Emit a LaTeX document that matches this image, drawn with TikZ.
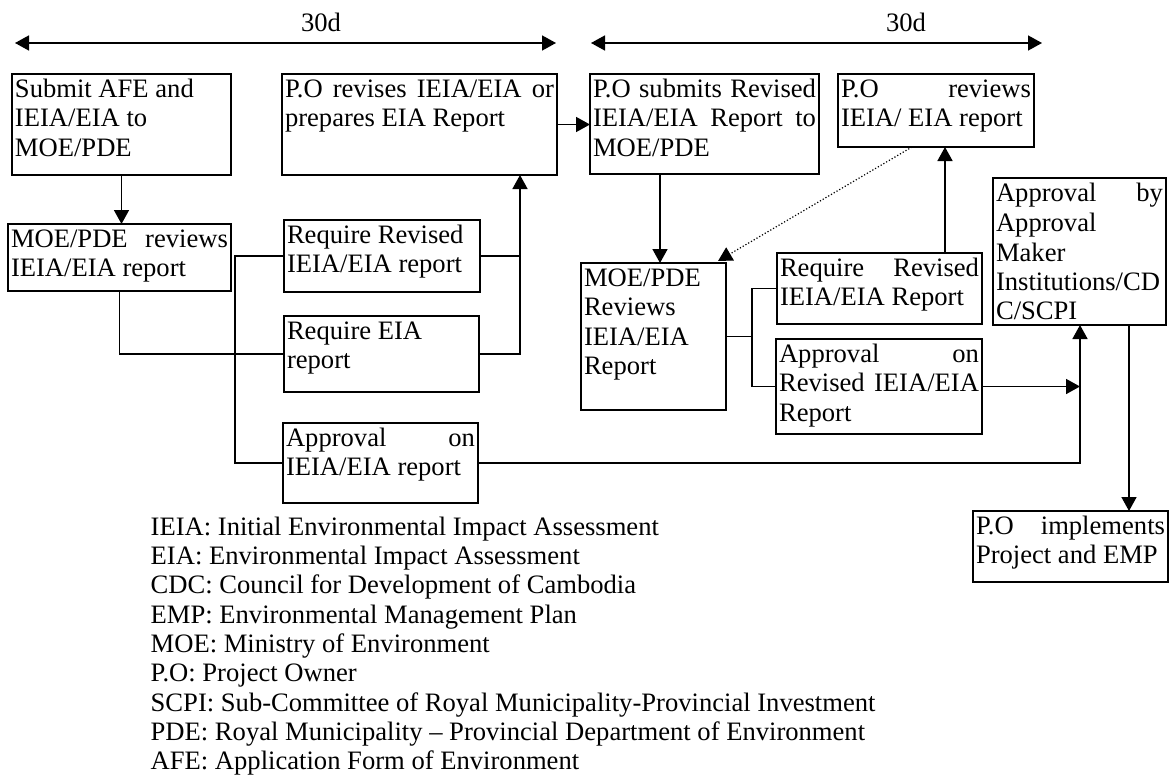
\documentclass[tikz,border=0pt]{standalone}
\usepackage{fontspec}
\setmainfont{Liberation Serif}
\usetikzlibrary{arrows.meta}

% line layout inside the boxes: every line carries a strut so the
% baselines sit 29.3pt apart and the first one 23.6pt below the top
\newdimen\bxw
\newcommand\bxpad{3pt}
\newcommand\lnstrut{\vrule width0pt height23.6pt depth5.7pt}
\newcommand\lft[1]{\hbox to\bxw{\hskip\bxpad\lnstrut #1\hfil}}
\newcommand\jst[1]{\hbox to\bxw{\hskip\bxpad\lnstrut\spaceskip=0.25em plus 1fil\relax #1\hskip\bxpad}}
\newcommand\boxtext[3]{\bxw=#1\relax\vbox to #2{#3\vfil}}
% tighter lines for the list of abbreviations
\newcommand\lgstrut{\vrule width0pt height23.4pt depth5.6pt}
\newcommand\lgl[1]{\hbox to\bxw{\lgstrut #1\hfil}}

\begin{document}
\begin{tikzpicture}[x=1pt,y=-1pt,
  font=\fontsize{26.6pt}{29.3pt}\selectfont,
  stepbox/.style={draw, line width=1.6pt, inner sep=0pt, outer sep=0pt, anchor=north west},
  ln/.style={line width=1.6pt},
  arr/.style={line width=1.6pt, -{Triangle[length=14pt,width=15pt]}},
  dbl/.style={line width=1.6pt, {Triangle[length=14pt,width=15pt]}-{Triangle[length=14pt,width=15pt]}},
  dots/.style={line width=1.2pt, dotted, -{Triangle[length=14pt,width=15pt]}}]
\useasboundingbox (0,0) rectangle (1176,776);

% time spans
\coordinate (tA1) at (15,43);
\coordinate (tA2) at (556,43);
\coordinate (tB1) at (591,43);
\coordinate (tB2) at (1042,43);
\draw[dbl] (tA1) -- (tA2);
\draw[dbl] (tB1) -- (tB2);
\node[anchor=base, inner sep=0pt] (d1) at (321,32) {30d};
\node[anchor=base, inner sep=0pt] (d2) at (906,32) {30d};

% process boxes
\node[stepbox] (A) at (12,74) {\boxtext{219pt}{101pt}{%
  \lft{Submit AFE and}\lft{IEIA/EIA to}\lft{MOE/PDE}}};
\node[stepbox] (B) at (8,224) {\boxtext{223pt}{67pt}{%
  \jst{MOE/PDE reviews}\lft{IEIA/EIA report}}};
\node[stepbox] (C) at (282,74) {\boxtext{275pt}{101pt}{%
  \jst{P.O revises IEIA/EIA or}\lft{prepares EIA Report}}};
\node[stepbox] (D) at (590,74) {\boxtext{229pt}{100pt}{%
  \jst{P.O submits Revised}\jst{IEIA/EIA Report to}\lft{MOE/PDE}}};
\node[stepbox] (E) at (838,74) {\boxtext{196pt}{73pt}{%
  \jst{P.O reviews}\lft{IEIA/ EIA report}}};
\node[stepbox] (RR) at (284,220) {\boxtext{196pt}{72pt}{%
  \lft{Require Revised}\lft{IEIA/EIA report}}};
\node[stepbox] (RE) at (284,316) {\boxtext{195pt}{76pt}{%
  \lft{Require EIA}\lft{report}}};
\node[stepbox] (K) at (283,423) {\boxtext{195pt}{80pt}{%
  \jst{Approval on}\lft{IEIA/EIA report}}};
\node[stepbox] (F) at (581,263) {\boxtext{145pt}{147pt}{%
  \lft{MOE/PDE}\lft{Reviews}\lft{IEIA/EIA}\lft{Report}}};
\node[stepbox] (G) at (777,253) {\boxtext{205pt}{71pt}{%
  \jst{Require Revised}\lft{IEIA/EIA Report}}};
\node[stepbox] (H) at (776,339) {\boxtext{206pt}{95pt}{%
  \jst{Approval on}\jst{Revised IEIA/EIA}\lft{Report}}};
\node[stepbox] (I) at (993,178) {\boxtext{173pt}{147pt}{%
  \jst{Approval by}\lft{Approval}\lft{Maker}\lft{Institutions/CD}\lft{C/SCPI}}};
\node[stepbox] (J) at (973,511) {\boxtext{195pt}{71pt}{%
  \jst{P.O implements}\lft{Project and EMP}}};

% abbreviations
\node[anchor=north west, inner sep=0pt] (legend) at (150.5,511.6) {\bxw=800pt\vbox{%
  \lgl{IEIA: Initial Environmental Impact Assessment}
  \lgl{EIA: Environmental Impact Assessment}
  \lgl{CDC: Council for Development of Cambodia}
  \lgl{EMP: Environmental Management Plan}
  \lgl{MOE: Ministry of Environment}
  \lgl{P.O: Project Owner}
  \lgl{SCPI: Sub-Committee of Royal Municipality-Provincial Investment}
  \lgl{PDE: Royal Municipality – Provincial Department of Environment}
  \lgl{AFE: Application Form of Environment}}};

% routing columns
\coordinate (xL) at (235,0);
\coordinate (xC) at (520,0);
\coordinate (xD) at (660,0);
\coordinate (xR) at (752,0);
\coordinate (xE) at (912,0);
\coordinate (xG) at (945,0);
\coordinate (xI) at (1080,0);
\coordinate (xJ) at (1129,0);
\coordinate (fTip) at (718,261);

% connectors
\draw[arr] (A.south) -- (A.south |- B.north);
\draw[ln] (B.south) |- (RE.west);
\draw[ln] (RR.west) -| (xL |- K.west) -- (K.west);
\draw[ln] (RR.east) -- (RR.east -| xC);
\draw[arr] (RE.east) -| (xC |- C.south);
\draw[arr] (C.east) -- (D.west |- C.east);
\draw[arr] (xD |- D.south) -- (xD |- F.north);
\draw[dots] (xE |- E.south) -- (fTip);
\draw[ln] (F.east) -- (F.east -| xR);
\draw[ln] (G.west) -| (xR |- H.west) -- (H.west);
\draw[arr] (xG |- G.north) -- (xG |- E.south);
\draw[arr] (H.east) -- (H.east -| xI);
\draw[arr] (K.east) -| (xI |- I.south);
\draw[arr] (xJ |- I.south) -- (xJ |- J.north);
\end{tikzpicture}
\end{document}
